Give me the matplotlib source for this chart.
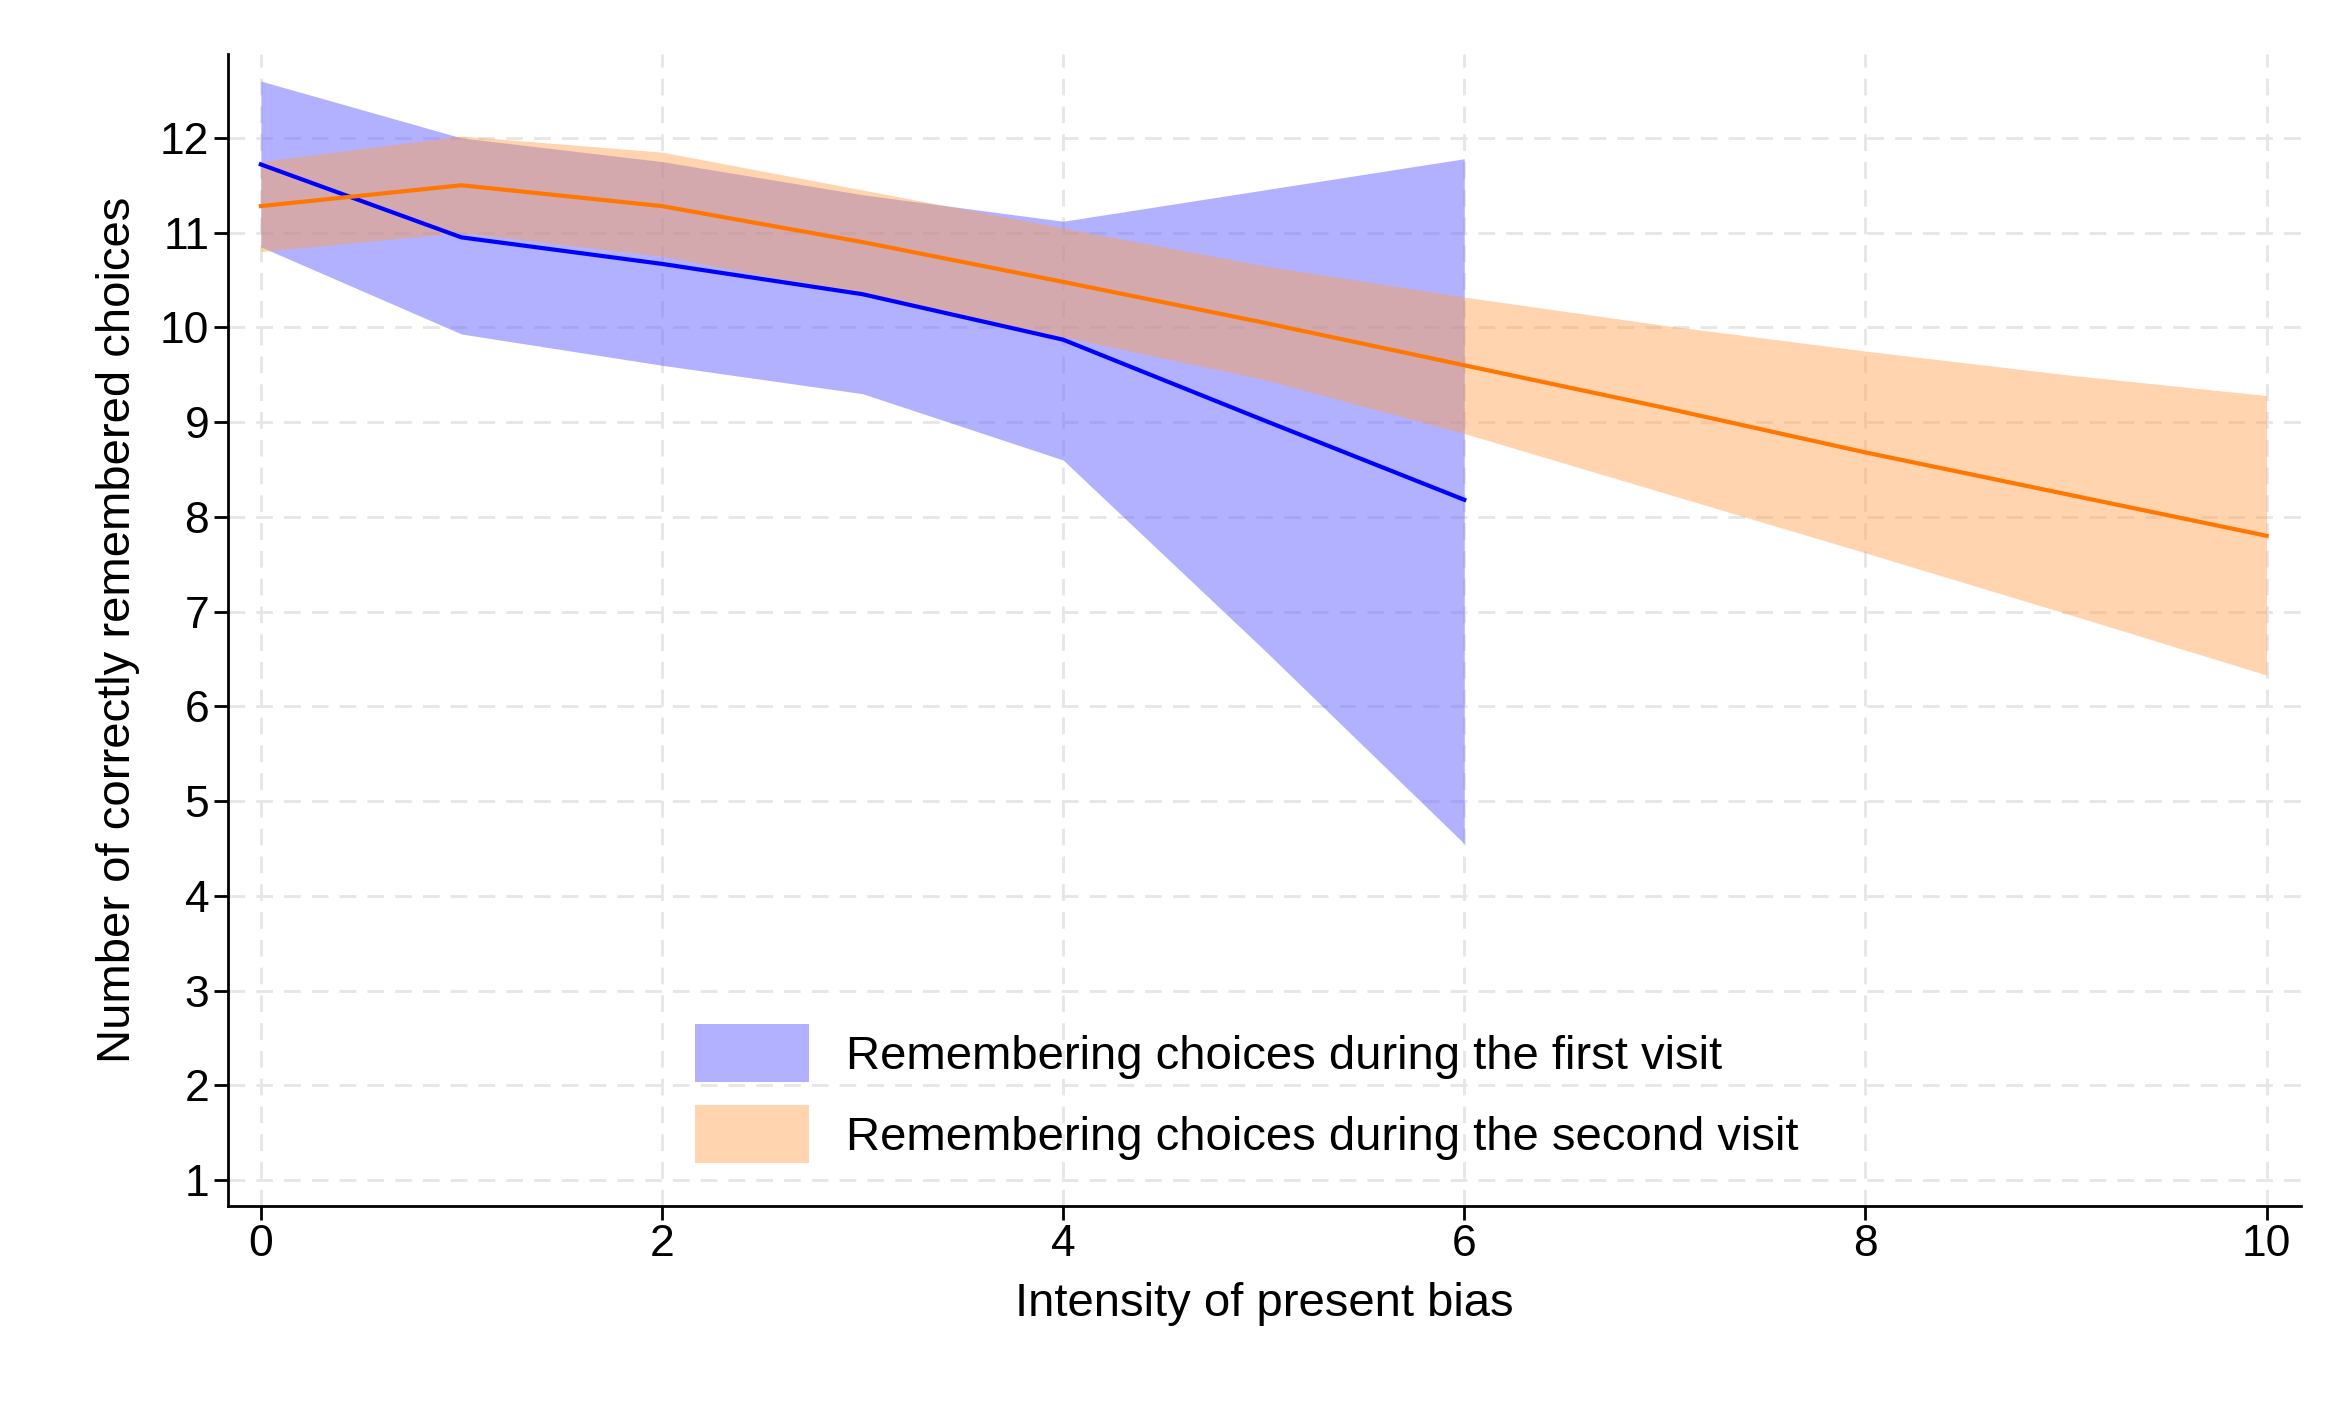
import matplotlib
matplotlib.use("Agg")
import matplotlib.pyplot as plt

# first visit
x1 = [0, 1, 2, 3, 4, 5, 6]
mean1 = [11.72, 10.95, 10.67, 10.35, 9.87, 9.02, 8.18]
hi1 = [12.60, 12.00, 11.75, 11.40, 11.12, 11.45, 11.78]
lo1 = [10.85, 9.93, 9.60, 9.30, 8.60, 6.60, 4.55]

# second visit
x2 = [0, 1, 2, 3, 4, 5, 6, 7, 8, 9, 10]
mean2 = [11.28, 11.50, 11.28, 10.90, 10.48, 10.05, 9.60, 9.15, 8.68, 8.24, 7.80]
hi2 = [11.75, 12.02, 11.85, 11.45, 11.05, 10.65, 10.32, 10.02, 9.75, 9.50, 9.28]
lo2 = [10.80, 11.00, 10.75, 10.35, 9.90, 9.45, 8.88, 8.25, 7.62, 6.98, 6.33]

plt.rcParams["font.family"] = ["Liberation Sans", "DejaVu Sans"]
fig = plt.figure(figsize=(23.5, 14.1), dpi=100)
ax = fig.add_axes([0.097, 0.145, 0.882, 0.817])

ax.fill_between(x1, lo1, hi1, color="#6b6bff", alpha=0.52, lw=0,
                label="Remembering choices during the first visit")
ax.plot(x1, mean1, color="#0000ff", lw=3)
ax.fill_between(x2, lo2, hi2, color="#ffa04d", alpha=0.45, lw=0,
                label="Remembering choices during the second visit")
ax.plot(x2, mean2, color="#ff7700", lw=3)

ax.set_xlim(-0.164, 10.17)
ax.set_ylim(0.73, 12.89)
ax.set_xticks([0, 2, 4, 6, 8, 10])
ax.set_yticks(range(1, 13))
ax.grid(True, color="#e6e6e6", ls=(0, (6, 4)), lw=2)
ax.set_axisbelow(True)
for s in ("top", "right"):
    ax.spines[s].set_visible(False)
for s in ("left", "bottom"):
    ax.spines[s].set_linewidth(2)
ax.tick_params(labelsize=32, width=2, length=10)
ax.set_xlabel("Intensity of present bias", fontsize=34, labelpad=12)
ax.set_ylabel("Number of correctly remembered choices", fontsize=34, labelpad=14)
ax.legend(loc="lower left", frameon=False, fontsize=34,
          handlelength=2.4, handleheight=1.5, bbox_to_anchor=(0.205, 0.0))

fig.savefig("out.png", dpi=100)
